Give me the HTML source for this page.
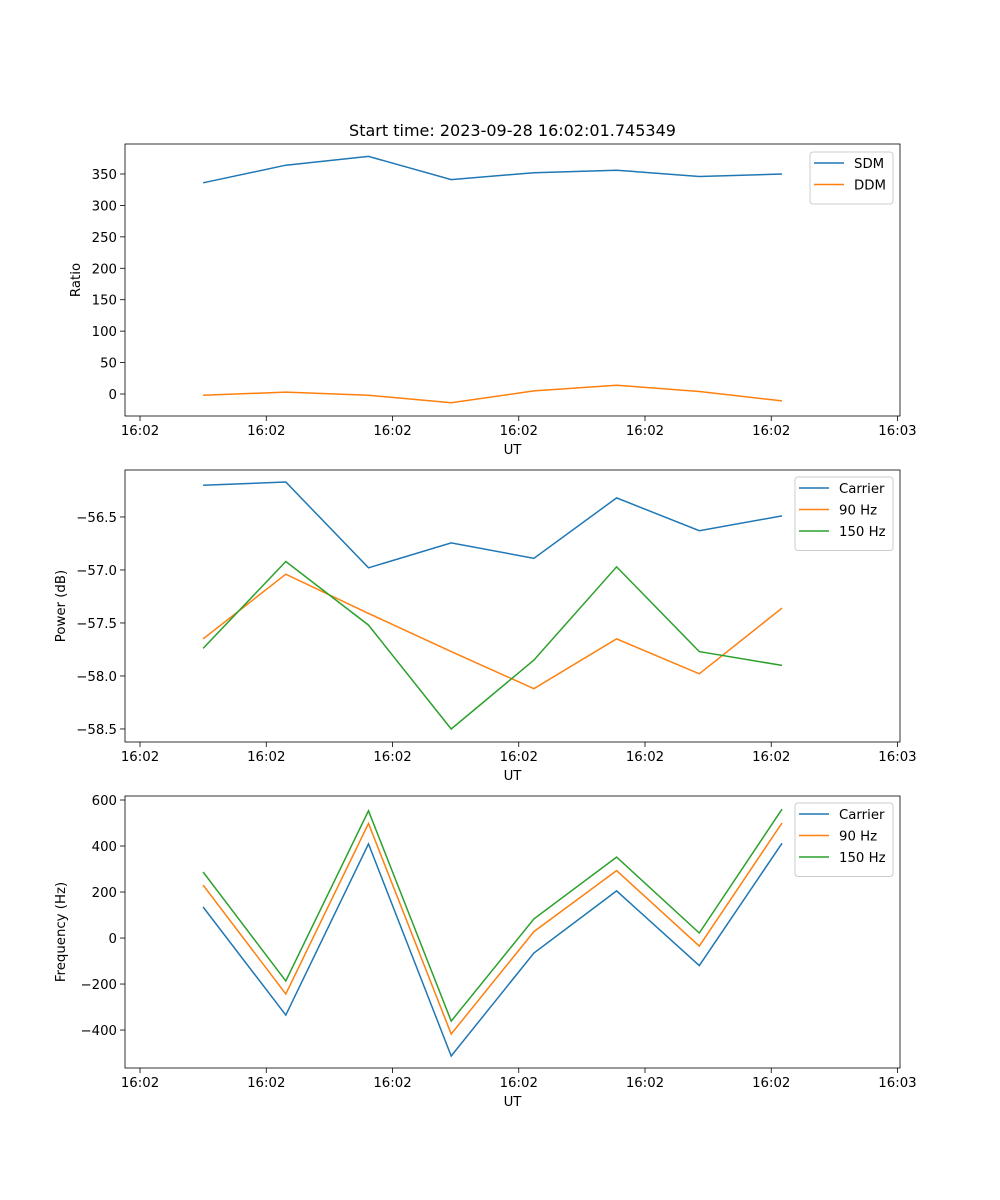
<!DOCTYPE html>
<html><head><meta charset="utf-8"><style>
html,body{margin:0;padding:0;background:#fff;}
svg{display:block;font-family:"DejaVu Sans","Liberation Sans",sans-serif;}
</style></head><body>
<svg id="fig" width="1000" height="1200" viewBox="0 0 1000 1200"></svg>
<script>
const xTimes = [5.0, 11.55, 18.1, 24.65, 31.2, 37.75, 44.3, 50.85];
const xTickVals = [0, 10, 20, 30, 40, 50, 60];
const xTickLabels = ["16:02","16:02","16:02","16:02","16:02","16:02","16:03"];
const sdm = [336, 364, 378, 341, 352, 356, 346, 350];
const ddm = [-2, 3, -2, -14, 5, 14, 4, -11];
const ratioTicks = [0, 50, 100, 150, 200, 250, 300, 350];
const powCarrier = [-56.20, -56.17, -56.98, -56.745, -56.89, -56.32, -56.63, -56.49];
const pow90 = [-57.65, -57.04, -57.41, -57.77, -58.12, -57.65, -57.98, -57.36];
const pow150 = [-57.74, -56.92, -57.52, -58.5, -57.85, -56.97, -57.77, -57.90];
const powTicks = [-58.5, -58.0, -57.5, -57.0, -56.5];
const freqCarrier = [135, -335, 409, -513, -65, 205, -120, 412];
const freq90 = [230, -243, 498, -417, 28, 293, -35, 500];
const freq150 = [287, -187, 553, -361, 83, 352, 22, 560];
const freqTicks = [-400, -200, 0, 200, 400, 600];

const NS = "http://www.w3.org/2000/svg";
const svg = document.getElementById('fig');
function el(tag, attrs, parent){const e=document.createElementNS(NS,tag);for(const k in attrs)e.setAttribute(k,attrs[k]);(parent||svg).appendChild(e);return e;}
const L=125,R=900;
const xMin=-1.19,xMax=60.2;
const xs=v=>L+(v-xMin)/(xMax-xMin)*(R-L);
const C1="#1f77b4",C2="#ff7f0e",C3="#2ca02c";
const FS='13.3';

function panel(name,top,bot,yMin,yMax,yTicks,yFmt,ylabel,series,legend){
  const g=el('g',{});
  
  
  const ys=v=>bot-(v-yMin)/(yMax-yMin)*(bot-top);
  xTickVals.forEach((v,i)=>{
    const x=xs(v);
    el('line',{x1:x,x2:x,y1:bot,y2:bot+5,stroke:'#000','stroke-width':0.8},g);
    const t=el('text',{x:x,y:bot+19,'text-anchor':'middle','font-size':FS},g);
    t.textContent=xTickLabels[i];
    
    
  });
  yTicks.forEach(v=>{
    const y=ys(v);
    el('line',{x1:L-5,x2:L,y1:y,y2:y,stroke:'#000','stroke-width':0.8},g);
    const t=el('text',{x:L-8,y:y+5,'text-anchor':'end','font-size':FS},g);
    t.textContent=yFmt(v);
    
    
  });
  const xl=el('text',{x:(L+R)/2,y:bot+38,'text-anchor':'middle','font-size':FS},g);
  xl.textContent='UT';
  
  
  const cy=(top+bot)/2;
  const yl=el('text',{x:0,y:0,'text-anchor':'middle','font-size':FS,transform:`translate(${name==='ratio'?80:65},${cy}) rotate(-90)`},g);
  yl.textContent=ylabel;
  
  
  series.forEach(s=>{
    const d=s.vals.map((v,i)=>(i?'L':'M')+xs(xTimes[i]).toFixed(1)+','+ys(v).toFixed(1)).join(' ');
    const p=el('path',{d:d,fill:'none',stroke:s.color,'stroke-width':1.5},g);
    
    
  });
  el('rect',{x:L,y:top,width:R-L,height:bot-top,fill:'none',stroke:'#000','stroke-width':0.8},g);
  const lg=el('g',{},g);
  
  
  el('rect',{x:legend.x,y:legend.y,width:legend.w,height:series.length*21.5+9,rx:3,fill:'#fff','fill-opacity':0.8,stroke:'#ccc','stroke-width':1},lg);
  series.forEach((s,i)=>{
    const y=legend.y+11+i*21.5;
    el('line',{x1:legend.x+4,x2:legend.x+34,y1:y,y2:y,stroke:s.color,'stroke-width':1.5},lg);
    const t=el('text',{x:legend.x+44,y:y+5,'font-size':FS},lg);
    t.textContent=s.label;
    
    
  });
}

const title=el('text',{x:(L+R)/2,y:136,'text-anchor':'middle','font-size':'16'});
title.textContent='Start time: 2023-09-28 16:02:01.745349';



panel('ratio',144,416,-35,397.7,ratioTicks,v=>String(v),'Ratio',
  [{id:'sdm',label:'SDM',vals:sdm,color:C1},{id:'ddm',label:'DDM',vals:ddm,color:C2}],
  {x:810,y:152,w:83});
panel('power',470,742,-58.623,-56.057,powTicks,v=>(v<0?'\u2212':'')+Math.abs(v).toFixed(1),'Power (dB)',
  [{id:'power-carrier',label:'Carrier',vals:powCarrier,color:C1},{id:'power-90hz',label:'90 Hz',vals:pow90,color:C2},{id:'power-150hz',label:'150 Hz',vals:pow150,color:C3}],
  {x:795,y:477,w:98});
panel('frequency',796,1068,-565,617.4,freqTicks,v=>(v<0?'\u2212':'')+Math.abs(v),'Frequency (Hz)',
  [{id:'freq-carrier',label:'Carrier',vals:freqCarrier,color:C1},{id:'freq-90hz',label:'90 Hz',vals:freq90,color:C2},{id:'freq-150hz',label:'150 Hz',vals:freq150,color:C3}],
  {x:795,y:803,w:98});
</script>
</body></html>
